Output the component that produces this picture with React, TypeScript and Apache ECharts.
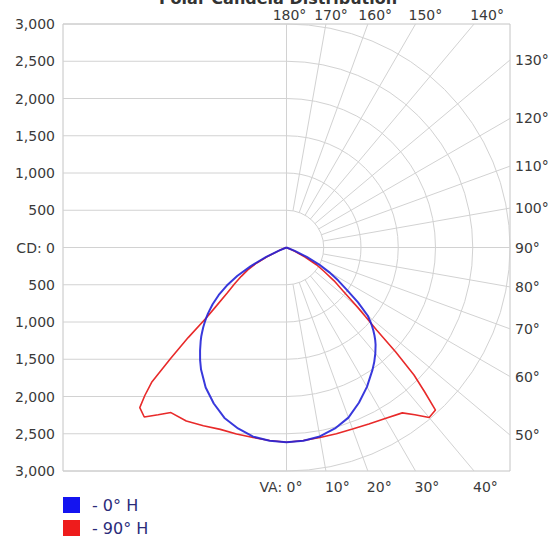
import React, { useEffect, useRef } from "react";
import * as echarts from "echarts";

// Vertical angles (deg from nadir) at which intensities are read
const VA = [0, 5, 10, 15, 20, 25, 30, 35, 37.5, 40, 42.5, 43.75, 45, 46.25, 47.5, 48.75, 50, 52.5, 55, 57.5, 60, 62.5, 65, 67.5, 70, 75, 80, 90];

// 0° H plane (right half) and its opposite plane (left half)
const H0_RIGHT = [2615, 2605, 2575, 2515, 2430, 2300, 2160, 2010, 1935, 1855, 1770, 1722, 1670, 1615, 1555, 1492, 1425, 1210, 985, 820, 660, 495, 300, 120, 0, 0, 0, 0];
const H0_LEFT = [2615, 2605, 2578, 2515, 2435, 2310, 2170, 2000, 1905, 1805, 1705, 1655, 1600, 1547, 1490, 1433, 1375, 1250, 1110, 950, 760, 540, 300, 110, 0, 0, 0, 0];

// 90° H plane (right half) and its opposite plane (left half)
const H90_RIGHT = [2615, 2600, 2590, 2588, 2592, 2615, 2650, 2710, 2830, 2980, 2960, 2680, 2420, 2030, 1640, 1420, 1240, 950, 780, 600, 470, 280, 130, 40, 0, 0, 0, 0];
const H90_LEFT = [2615, 2600, 2590, 2592, 2598, 2640, 2690, 2705, 2830, 2970, 2915, 2750, 2560, 2150, 1790, 1430, 1250, 1000, 850, 720, 600, 450, 260, 100, 20, 0, 0, 0];

const SERIES_NAMES = ["0° H", "90° H"];
const CD_MAX = 3000;
const CD_STEP = 500;
const RINGS = [500, 1000, 1500, 2000, 2500, 3000];
const SPOKES = [0, 10, 20, 30, 40, 50, 60, 70, 80, 90, 100, 110, 120, 130, 140, 150, 160, 170, 180];
const TITLE = "Polar Candela Distribution";

const GRID_COLOR = "#d2d2d2";
const LABEL_COLOR = "#3a3a3a";
const FONT = "DejaVu Sans";

function toPolar(left: number[], right: number[]) {
  const pts: number[][] = [];
  for (let i = VA.length - 1; i >= 0; i--) pts.push([left[i], 360 - VA[i]]);
  for (let i = 1; i < VA.length; i++) pts.push([right[i], VA[i]]);
  return pts;
}

function fmtCD(v: number) {
  if (v === 0) return "CD: 0";
  return String(Math.abs(v)).replace(/\B(?=(\d{3})+(?!\d))/g, ",");
}

export default function App() {
  const ref = useRef<HTMLDivElement>(null);

  useEffect(() => {
    if (!ref.current) return;
    const chart = echarts.init(ref.current, undefined, { renderer: "svg" });

    const gridLeft = 63;
    const gridTop = 24;
    const size = 447;
    const cx = gridLeft + size / 2;
    const cy = gridTop + size / 2;

    const option: any = {
      animation: false,
      backgroundColor: "#ffffff",
      graphic: [
        {
          type: "text",
          x: 278,
          y: -2,
          style: {
            text: TITLE,
            fontSize: 16,
            fontWeight: "bold",
            fontFamily: FONT,
            fill: "#333333",
            align: "center",
            verticalAlign: "middle",
          },
        },
      ],
      grid: {
        left: gridLeft,
        top: gridTop,
        width: size,
        height: size,
        show: true,
        borderColor: "#c4c4c4",
        borderWidth: 1,
        backgroundColor: "transparent",
      },
      xAxis: {
        type: "value",
        min: -CD_MAX,
        max: CD_MAX,
        interval: CD_MAX,
        axisLine: { show: false },
        axisTick: { show: false },
        axisLabel: { show: false },
        splitLine: { show: false },
      },
      yAxis: {
        type: "value",
        min: -CD_MAX,
        max: CD_MAX,
        interval: CD_STEP,
        axisLine: { show: false },
        axisTick: { show: false },
        splitLine: { show: false },
        axisLabel: {
          formatter: fmtCD,
          color: LABEL_COLOR,
          fontSize: 14,
          fontFamily: FONT,
          margin: 8,
        },
      },
      polar: {
        center: [cx, cy],
        radius: size / 2,
      },
      angleAxis: {
        type: "value",
        min: 0,
        max: 360,
        startAngle: 270,
        clockwise: false,
        show: false,
      },
      radiusAxis: {
        type: "value",
        min: 0,
        max: CD_MAX,
        show: false,
      },
      legend: {
        data: SERIES_NAMES,
        orient: "vertical",
        left: 63,
        top: 497,
        padding: 0,
        icon: "rect",
        itemWidth: 17,
        itemHeight: 16,
        itemGap: 7,
        formatter: (n: string) => "- " + n,
        textStyle: {
          color: "#2b2b7a",
          fontSize: 16,
          fontFamily: FONT,
          padding: [0, 0, 0, 7],
        },
      },
      series: [
        {
          type: "custom",
          name: "axes",
          coordinateSystem: "cartesian2d",
          silent: true,
          z: 1,
          data: [[0, 0]],
          renderItem: (_p: any, api: any) => {
            const v1 = api.coord([0, -CD_MAX]);
            const v2 = api.coord([0, CD_MAX]);
            const h1 = api.coord([-CD_MAX, 0]);
            const h2 = api.coord([CD_MAX, 0]);
            return {
              type: "group",
              children: [
                { type: "line", shape: { x1: v1[0], y1: v1[1], x2: v2[0], y2: v2[1] }, style: { stroke: GRID_COLOR, lineWidth: 1 } },
                { type: "line", shape: { x1: h1[0], y1: h1[1], x2: h2[0], y2: h2[1] }, style: { stroke: GRID_COLOR, lineWidth: 1 } },
              ],
            };
          },
        },
        {
          type: "custom",
          name: "rings",
          coordinateSystem: "cartesian2d",
          silent: true,
          z: 1,
          data: RINGS.map((r) => [r, 0]),
          renderItem: (_p: any, api: any) => {
            const r = api.value(0);
            const c = api.coord([0, 0]);
            const rp = api.size([r, 0])[0];
            const a = api.coord([-CD_MAX, r]);
            const b = api.coord([0, r]);
            const a2 = api.coord([-CD_MAX, -r]);
            const b2 = api.coord([0, -r]);
            return {
              type: "group",
              children: [
                {
                  type: "arc",
                  shape: { cx: c[0], cy: c[1], r: rp, startAngle: -Math.PI / 2, endAngle: Math.PI / 2, clockwise: true },
                  style: { stroke: GRID_COLOR, lineWidth: 1, fill: "none" },
                },
                { type: "line", shape: { x1: a[0], y1: a[1], x2: b[0], y2: b[1] }, style: { stroke: GRID_COLOR, lineWidth: 1 } },
                { type: "line", shape: { x1: a2[0], y1: a2[1], x2: b2[0], y2: b2[1] }, style: { stroke: GRID_COLOR, lineWidth: 1 } },
              ],
            };
          },
        },
        {
          type: "custom",
          name: "spokes",
          coordinateSystem: "cartesian2d",
          silent: true,
          z: 1,
          data: SPOKES.map((d) => [d, 0]),
          renderItem: (_p: any, api: any) => {
            const deg = api.value(0);
            const th = (deg * Math.PI) / 180;
            const s = Math.sin(th);
            const co = Math.cos(th);
            const as = Math.abs(s) > 1e-9 ? CD_MAX / Math.abs(s) : Infinity;
            const ac = Math.abs(co) > 1e-9 ? CD_MAX / Math.abs(co) : Infinity;
            const t = Math.min(as, ac);
            const p0 = api.coord([RINGS[0] * s, -RINGS[0] * co]);
            const p1 = api.coord([t * s, -t * co]);
            const children: any[] = [];
            if (deg !== 0 && deg !== 180) {
              children.push({
                type: "line",
                shape: { x1: p0[0], y1: p0[1], x2: p1[0], y2: p1[1] },
                style: { stroke: GRID_COLOR, lineWidth: 1 },
              });
            }
            let lx = 0, ly = 0, align = "left";
            let text = `${deg}°`;
            if (deg <= 40) {
              ly = p1[1] + 16;
              if (deg === 0) {
                text = "VA: 0°";
                align = "right";
                lx = p1[0] + 16;
              } else {
                lx = p1[0] - 1;
              }
            } else if (deg <= 130) {
              lx = p1[0] + 5;
              ly = p1[1];
            } else {
              const t2 = 3160 / Math.abs(co);
              lx = api.coord([t2 * s, 0])[0] + 3;
              ly = p1[1] - 9;
              align = "center";
            }
            children.push({
              type: "text",
              style: {
                text,
                x: lx,
                y: ly,
                fill: LABEL_COLOR,
                fontSize: 14,
                fontFamily: FONT,
                align,
                verticalAlign: "middle",
              },
            });
            return { type: "group", children };
          },
        },
        {
          type: "line",
          name: SERIES_NAMES[1],
          coordinateSystem: "polar",
          polarIndex: 0,
          data: toPolar(H90_LEFT, H90_RIGHT),
          showSymbol: false,
          symbol: "none",
          color: "#ee1c1c",
          lineStyle: { color: "#e82a2a", width: 1.6 },
          z: 3,
        },
        {
          type: "line",
          name: SERIES_NAMES[0],
          coordinateSystem: "polar",
          polarIndex: 0,
          data: toPolar(H0_LEFT, H0_RIGHT),
          showSymbol: false,
          symbol: "none",
          color: "#1414f0",
          lineStyle: { color: "#2424d8", width: 2, opacity: 0.9 },
          z: 4,
        },
      ],
    };

    chart.setOption(option);
    return () => chart.dispose();
  }, []);

  return (
    <div
      ref={ref}
      style={{ position: "absolute", left: 0, top: 0, width: 552, height: 541 }}
    />
  );
}
